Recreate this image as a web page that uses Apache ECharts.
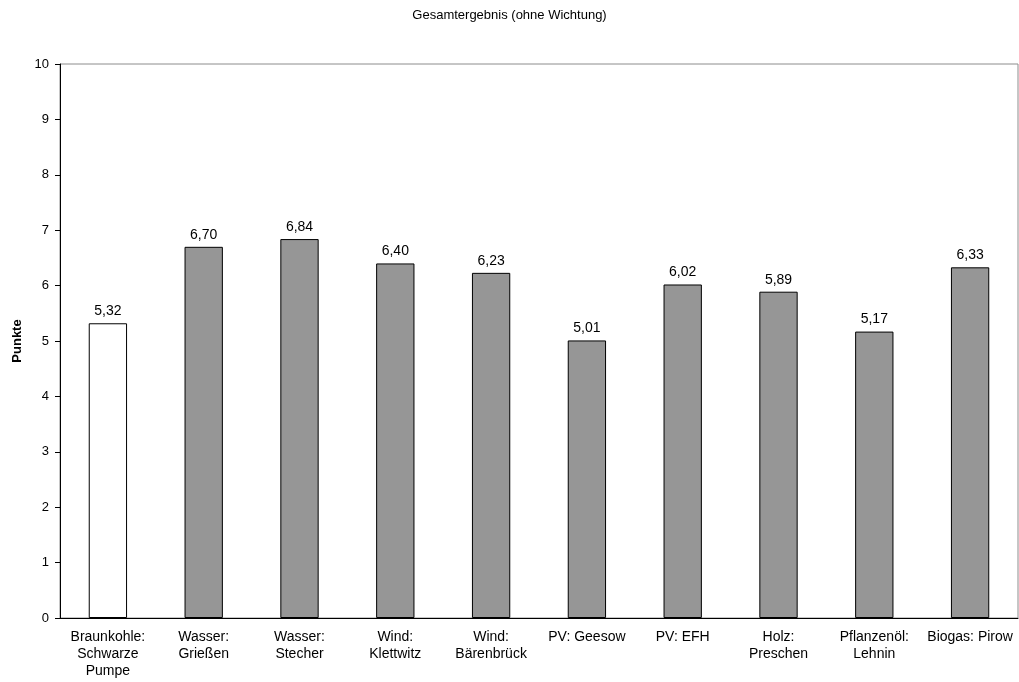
<!DOCTYPE html>
<html>
<head>
<meta charset="utf-8">
<script src="https://cdn.jsdelivr.net/npm/echarts@6/dist/echarts.min.js"></script>
<style>
  html, body { margin: 0; padding: 0; background: #fff; }
  #chart { width: 1019px; height: 682px; }
</style>
</head>
<body>
<div id="chart"></div>
<script>
// Overall score per energy source (unweighted)
const categories = [
  'Braunkohle:\nSchwarze\nPumpe',
  'Wasser:\nGrießen',
  'Wasser:\nStecher',
  'Wind:\nKlettwitz',
  'Wind:\nBärenbrück',
  'PV: Geesow',
  'PV: EFH',
  'Holz:\nPreschen',
  'Pflanzenöl:\nLehnin',
  'Biogas: Pirow'
];
const scores = [5.32, 6.70, 6.84, 6.40, 6.23, 5.01, 6.02, 5.89, 5.17, 6.33];
const yTicks = [0, 1, 2, 3, 4, 5, 6, 7, 8, 9, 10];

const font = 'Liberation Sans, Arial, sans-serif';
const chart = echarts.init(document.getElementById('chart'), null, { renderer: 'canvas' });

chart.setOption({
  animation: false,
  backgroundColor: '#fff',
  title: {
    text: 'Gesamtergebnis (ohne Wichtung)',
    left: 'center',
    top: 4,
    textStyle: { fontFamily: font, fontSize: 13, fontWeight: 'normal', color: '#000' }
  },
  grid: {
    left: 60, right: 1, top: 64, bottom: 64,
    show: true, borderColor: '#8c8c8c', borderWidth: 1, backgroundColor: '#fff'
  },
  xAxis: {
    type: 'category',
    data: categories,
    axisLine: { lineStyle: { color: '#000', width: 1 } },
    axisTick: { alignWithLabel: false, length: 5, lineStyle: { color: '#000' } },
    axisLabel: {
      interval: 0, margin: 11, color: '#000',
      fontFamily: font, fontSize: 14, lineHeight: 17
    }
  },
  yAxis: {
    type: 'value',
    min: yTicks[0], max: yTicks[yTicks.length - 1], interval: 1,
    name: 'Punkte',
    nameLocation: 'middle',
    nameGap: 33,
    nameTextStyle: { fontFamily: font, fontSize: 13, fontWeight: 'bold', color: '#000' },
    axisLine: { show: true, lineStyle: { color: '#000', width: 1 } },
    axisTick: { show: true, length: 5, lineStyle: { color: '#000' } },
    axisLabel: { color: '#000', fontFamily: font, fontSize: 13, margin: 11 },
    splitLine: { show: false }
  },
  series: [{
    type: 'bar',
    barWidth: '40%',
    data: scores.map((v, i) => ({
      value: v,
      itemStyle: { color: i === 0 ? '#ffffff' : '#969696' }
    })),
    itemStyle: { borderColor: '#000', borderWidth: 1 },
    label: {
      show: true, position: 'top', distance: 5,
      color: '#000', fontFamily: font, fontSize: 14,
      formatter: p => p.value.toFixed(2).replace('.', ',')
    }
  }]
});
</script>
</body>
</html>
